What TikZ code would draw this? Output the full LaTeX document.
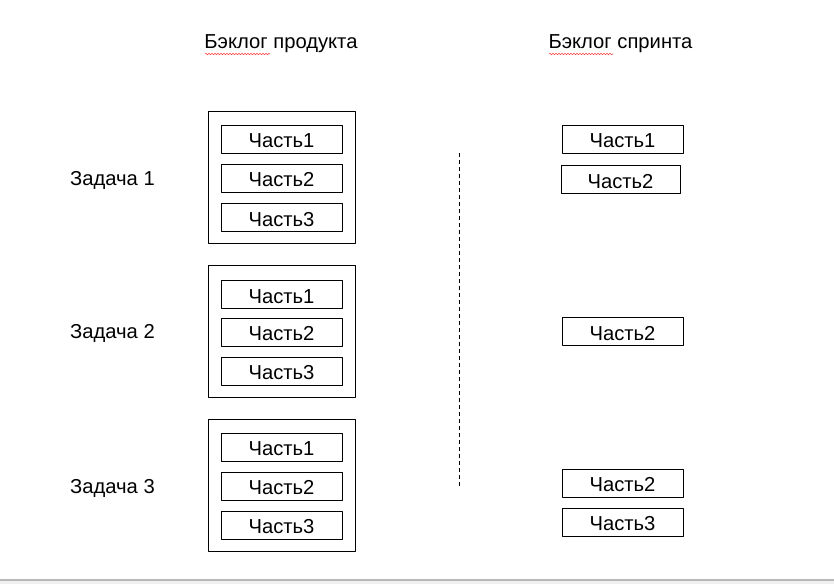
\documentclass[tikz,border=0pt]{standalone}
\usepackage{fontspec}
\setmainfont{Liberation Sans}
\usetikzlibrary{decorations.pathmorphing}

\tikzset{
  part/.style = {draw, line width = 1pt, minimum width = 121pt, minimum height = 28pt,
    inner sep = 0pt, text height = 17pt, text depth = 0pt},
  taskbox/.style = {draw, line width = 1pt, minimum width = 147pt, minimum height = 132pt,
    inner sep = 0pt},
  task/.style = {anchor = base west, inner sep = 0pt},
  spell/.style = {red!75, line width = .6pt, decorate,
    decoration = {snake, amplitude = .7pt, segment length = 3pt}}
}

\begin{document}
\begin{tikzpicture}[x = 1pt, y = -1pt, line join = round,
  font = \fontsize{20.2}{24}\selectfont]
  \useasboundingbox (0, 0) rectangle (834, 584);

  % headings
  \node[anchor = base, inner sep = 0pt] (prod) at (281, 48.5) {Бэклог продукта};
  \node[anchor = base, inner sep = 0pt] (sprint) at (620.5, 48.5) {Бэклог спринта};
  \draw[spell] (205, 54) -- (270, 54);
  \draw[spell] (549, 54) -- (613, 54);

  % tasks
  \node[task] (task1) at (70, 185) {Задача 1};
  \node[task] (task2) at (70, 338) {Задача 2};
  \node[task] (task3) at (70, 493) {Задача 3};

  \node[taskbox] (box1) at (282, 177) {};
  \node[part] (p11) at (281.5, 139) {Часть1};
  \node[part] (p12) at (281.5, 178) {Часть2};
  \node[part] (p13) at (281.5, 217.5) {Часть3};

  \node[taskbox] (box2) at (282, 331) {};
  \node[part] (p21) at (281.5, 294.5) {Часть1};
  \node[part] (p22) at (281.5, 332) {Часть2};
  \node[part] (p23) at (281.5, 371) {Часть3};

  \node[taskbox] (box3) at (282, 485) {};
  \node[part] (p31) at (281.5, 447) {Часть1};
  \node[part] (p32) at (281.5, 486) {Часть2};
  \node[part] (p33) at (281.5, 525) {Часть3};

  % separator
  \coordinate (sep1) at (459, 153);
  \coordinate (sep2) at (459, 486);
  \draw[line width = 1pt, dash pattern = on 4pt off 3pt] (sep1) -- (sep2);

  % sprint backlog
  \node[part] (s11) at (622.5, 139) {Часть1};
  \node[part, minimum width = 119pt] (s12) at (620.5, 179.5) {Часть2};
  \node[part] (s22) at (622.5, 331.5) {Часть2};
  \node[part] (s32) at (622.5, 483) {Часть2};
  \node[part] (s33) at (622.5, 522) {Часть3};

  % window edge
  \fill[black!6] (0, 580.5) rectangle (834, 584);
  \draw[black!28, line width = 1.2pt] (0, 580) -- (834, 580);
\end{tikzpicture}
\end{document}
